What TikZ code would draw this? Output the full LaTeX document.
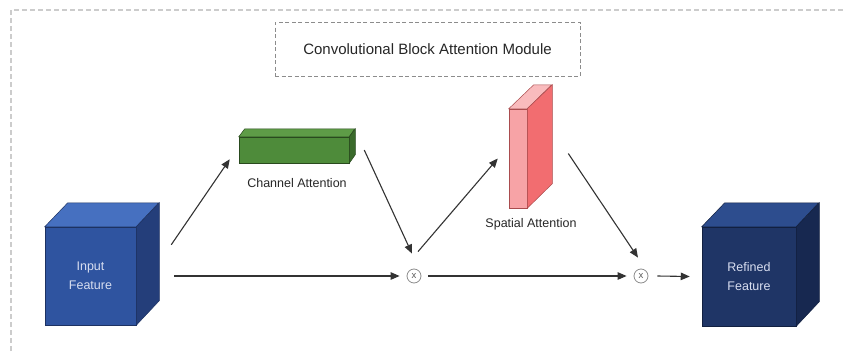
\documentclass[tikz,border=0pt]{standalone}
\usepackage{fontspec}
\setmainfont{Liberation Sans}
\usetikzlibrary{arrows.meta,calc}
\definecolor{inF}{HTML}{2F54A0}
\definecolor{inT}{HTML}{4670C0}
\definecolor{inS}{HTML}{243E7A}
\definecolor{reF}{HTML}{1F3566}
\definecolor{reT}{HTML}{2D4D8E}
\definecolor{reS}{HTML}{172850}
\definecolor{grF}{HTML}{4E8B3A}
\definecolor{grT}{HTML}{5E9C47}
\definecolor{grS}{HTML}{3A6A2B}
\definecolor{rdF}{HTML}{F7A3A6}
\definecolor{rdT}{HTML}{F9BBBD}
\definecolor{rdS}{HTML}{F26D70}
\definecolor{cubetxt}{HTML}{D8DEF0}
\definecolor{arrc}{HTML}{333333}
\tikzset{
  framedash/.style={draw=black!20, line width=1.3pt, dash pattern=on 5pt off 3pt},
  titlebox/.style={draw=black!45, line width=0.9pt, dash pattern=on 4pt off 2.5pt, inner sep=0pt,
    font=\fontsize{15}{18}\selectfont, text=black!85},
  face/.style={inner sep=0pt, line width=0.5pt},
  cubetext/.style={text=cubetxt, align=center, font=\fontsize{12.5}{19}\selectfont},
  lbl/.style={font=\fontsize{12.5}{15}\selectfont, text=black!85, inner sep=0pt},
  mult/.style={circle, draw=black!45, line width=0.8pt, minimum size=14pt, inner sep=0pt,
    font=\fontsize{9.5}{9.5}\selectfont, text=black!65},
  arr/.style={draw=arrc, line width=1.1pt, -{Triangle[length=9pt,width=7.5pt]}},
}
\begin{document}
\begin{tikzpicture}[x=1pt,y=-1pt]
\useasboundingbox (0,0) rectangle (844,351);
% outer frame
\draw[framedash] (11,351) -- (11,10) -- (844,10);
% title
\node[titlebox, minimum width=305pt, minimum height=54pt] (title) at (427.5,49) {Convolutional Block Attention Module};

% input cube
\node[face, fill=inF, draw=inS!80!black, minimum width=91pt, minimum height=98pt, cubetext] (in) at (90.5,276) {Input\\Feature};
\filldraw[fill=inT, draw=inS!80!black, line width=0.5pt] (in.north west) -- ++(23,-24) -- ++(91,0) -- (in.north east) -- cycle;
\filldraw[fill=inS, draw=inS!80!black, line width=0.5pt] (in.north east) -- ++(23,-24) -- ++(0,98) -- (in.south east) -- cycle;

% refined cube
\node[face, fill=reF, draw=reS!80!black, minimum width=94pt, minimum height=99pt, cubetext] (re) at (749,276.5) {Refined\\Feature};
\filldraw[fill=reT, draw=reS!80!black, line width=0.5pt] (re.north west) -- ++(23,-24) -- ++(94,0) -- (re.north east) -- cycle;
\filldraw[fill=reS, draw=reS!80!black, line width=0.5pt] (re.north east) -- ++(23,-24) -- ++(0,99) -- (re.south east) -- cycle;

% channel attention bar
\node[face, fill=grF, draw=grS!70!black, minimum width=110pt, minimum height=26pt] (ch) at (294,150) {};
\filldraw[fill=grT, draw=grS!70!black, line width=0.5pt] (ch.north west) -- ++(6,-8) -- ++(110,0) -- (ch.north east) -- cycle;
\filldraw[fill=grS, draw=grS!70!black, line width=0.5pt] (ch.north east) -- ++(6,-8) -- ++(0,26) -- (ch.south east) -- cycle;
\node[lbl] (chl) at (297,183) {Channel Attention};

% spatial attention slab
\node[face, fill=rdF, draw=rdS!70!black, minimum width=18pt, minimum height=99pt] (sp) at (518,158.5) {};
\filldraw[fill=rdT, draw=rdS!70!black, line width=0.5pt] (sp.north west) -- ++(25,-24) -- ++(18,0) -- (sp.north east) -- cycle;
\filldraw[fill=rdS, draw=rdS!70!black, line width=0.5pt] (sp.north east) -- ++(25,-24) -- ++(0,99) -- (sp.south east) -- cycle;
\node[lbl] (spl) at (531,224) {Spatial Attention};

% multiplication nodes
\node[mult] (m1) at (414,276) {x};
\node[mult] (m2) at (641,276) {x};

% connectors
\draw[arr] ($(in.north east)+(35,18)$) -- ($(ch.south west)+(-9,-4)$);
\draw[arr, shorten >=7pt] ($(in.east)+(38,0)$) -- (m1.west);
\draw[arr] ($(ch.east)+(15,0)$) -- ($(m1.north)+(-2,-15)$);
\draw[arr] ($(m1.north)+(4,-17)$) -- ($(sp.west)+(-11,0)$);
\draw[arr] ($(sp.east)+(41,-5)$) -- ($(m2.north)+(-3,-11)$);
\draw[arr, shorten <=7pt, shorten >=7pt] (m1.east) -- (m2.west);
\draw[arr] ($(m2.east)+(9,0)$) -- ($(re.west)+(-12,0)$);
\end{tikzpicture}
\end{document}
